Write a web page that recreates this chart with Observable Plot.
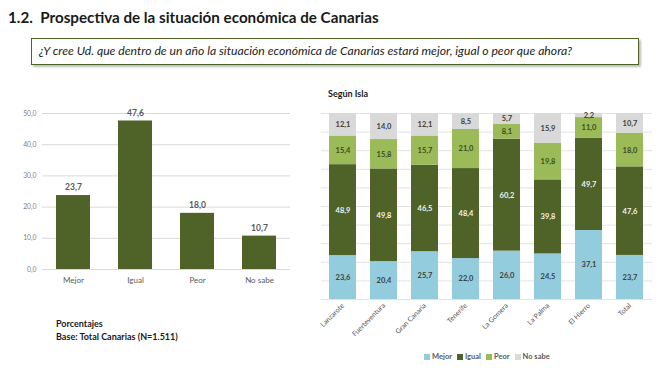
<!DOCTYPE html>
<html>
<head>
<meta charset="utf-8">
<script src="https://cdn.jsdelivr.net/npm/d3@7"></script>
<script src="https://cdn.jsdelivr.net/npm/@observablehq/plot@0.6"></script>
<style>
  body { margin:0; background:#fff; font-family: Lato, "Open Sans", sans-serif; }
  #page { position:relative; width:659px; height:371px; overflow:hidden; }
  .abs { position:absolute; }
  #title { left:8px; top:8px; font-size:15.2px; font-weight:bold; color:#1a1a1a; white-space:nowrap; }
  #qbox { left:31px; top:38px; width:608px; height:27px; border:1px solid #4f6228; box-shadow:2px 2px 2px #bdbdbd; box-sizing:border-box; }
  #question { left:39px; top:43px; font-size:12.2px; font-style:italic; color:#222; white-space:nowrap; }
  #sub { left:328px; top:88px; font-size:9px; font-weight:bold; color:#1a1a1a; }
  #base { left:56px; top:317px; font-size:9px; font-weight:bold; color:#1a1a1a; line-height:13px; }
  #legend { left:424px; top:352px; font-size:7.5px; font-weight:bold; color:#595959; white-space:nowrap; }
  #legend span.sw { display:inline-block; width:6px; height:6px; margin-right:2px; vertical-align:-0.5px; }
  #legend span.it { margin-right:5px; }
</style>
</head>
<body>
<div id="page">
  <div id="title" class="abs">1.2.&nbsp;&nbsp;Prospectiva de la situación económica de Canarias</div>
  <div id="qbox" class="abs"></div>
  <div id="question" class="abs">¿Y cree Ud. que dentro de un año la situación económica de Canarias estará mejor, igual o peor que ahora?</div>
  <div id="left" class="abs" style="left:0;top:100px;"></div>
  <div id="sub" class="abs">Según Isla</div>
  <div id="right" class="abs" style="left:300px;top:100px;"></div>
  <div id="legend" class="abs"></div>
  <div id="base" class="abs">Porcentajes<br>Base: Total Canarias (N=1.511)</div>
</div>
<script>
// ---- Data ----
const categories = ["Mejor", "Igual", "Peor", "No sabe"];
const totalValues = [23.7, 47.6, 18.0, 10.7];
const yTicksLeft = [0, 10, 20, 30, 40, 50];

const islands = ["Lanzarote", "Fuerteventura", "Gran Canaria", "Tenerife", "La Gomera", "La Palma", "El Hierro", "Total"];
const mejor  = [23.6, 20.4, 25.7, 22.0, 26.0, 24.5, 37.1, 23.7];
const igual  = [48.9, 49.8, 46.5, 48.4, 60.2, 39.8, 49.7, 47.6];
const peor   = [15.4, 15.8, 15.7, 21.0, 8.1, 19.8, 11.0, 18.0];
const noSabe = [12.1, 14.0, 12.1, 8.5, 5.7, 15.9, 2.2, 10.7];
const gridRight = [0, 10, 20, 30, 40, 50, 60, 70, 80, 90, 100];

const seriesColors = {"Mejor": "#93cddd", "Igual": "#4f6228", "Peor": "#9bbb59", "No sabe": "#d9d9d9"};
const labelColors = {"Mejor": "#404040", "Igual": "#f2f2f2", "Peor": "#3d4d20", "No sabe": "#404040"};

const fmt = v => v.toFixed(1).replace(".", ",");

// ---- Left chart ----
const leftData = categories.map((c, i) => ({cat: c, value: totalValues[i]}));
const left = Plot.plot({
  width: 300, height: 195,
  marginLeft: 42, marginRight: 10, marginTop: 13, marginBottom: 26,
  style: {fontFamily: "Lato, 'Open Sans', sans-serif", background: "transparent"},
  x: {domain: categories, paddingInner: 0.45, paddingOuter: 0.225, label: null},
  y: {domain: [0, 50], label: null},
  marks: [
    Plot.gridY(yTicksLeft, {stroke: "#d9d9d9", strokeOpacity: 1}),
    Plot.barY(leftData, {x: "cat", y: "value", fill: "#4f6228"}),
    Plot.text(leftData, {x: "cat", y: "value", text: d => fmt(d.value), dy: -8, fontSize: 8.5, fontWeight: "bold", fill: "#595959"}),
    Plot.axisY(yTicksLeft, {tickFormat: fmt, tickSize: 0, tickPadding: 6, fontSize: 6.8, color: "#7f7f7f"}),
    Plot.axisX({tickSize: 0, tickPadding: 8, fontSize: 8, color: "#595959"})
  ]
});
document.getElementById("left").appendChild(left);

// ---- Right chart ----
const seriesNames = ["Mejor", "Igual", "Peor", "No sabe"];
const seriesVals = [mejor, igual, peor, noSabe];
const stacked = [];
islands.forEach((isl, i) => {
  let acc = 0;
  seriesNames.forEach((s, k) => {
    const v = seriesVals[k][i];
    stacked.push({island: isl, serie: s, value: v, y1: acc, y2: acc + v});
    acc += v;
  });
});

const textMarks = seriesNames.map(s =>
  Plot.text(stacked.filter(d => d.serie === s), {
    x: "island", y: d => (d.y1 + d.y2) / 2, text: d => fmt(d.value),
    fill: labelColors[s], fontSize: 7.5, fontWeight: "bold"
  })
);

const right = Plot.plot({
  width: 359, height: 240,
  marginLeft: 21, marginRight: 7, marginTop: 13, marginBottom: 41,
  style: {fontFamily: "Lato, 'Open Sans', sans-serif", background: "transparent"},
  x: {domain: islands, paddingInner: 0.335, paddingOuter: 0.17, label: null},
  y: {domain: [0, 100], label: null, axis: null},
  color: {domain: seriesNames, range: seriesNames.map(s => seriesColors[s])},
  marks: [
    Plot.gridY(gridRight, {stroke: "#e3e3e3", strokeOpacity: 1}),
    Plot.barY(stacked, {x: "island", y1: "y1", y2: "y2", fill: "serie"}),
    ...textMarks,
    Plot.axisX({tickSize: 0, tickPadding: 5, tickRotate: -45, fontSize: 7, color: "#595959"})
  ]
});
document.getElementById("right").appendChild(right);

// ---- Legend ----
const leg = document.getElementById("legend");
seriesNames.forEach(s => {
  const it = document.createElement("span");
  it.className = "it";
  it.innerHTML = `<span class="sw" style="background:${seriesColors[s]}"></span>${s}`;
  leg.appendChild(it);
});
</script>
</body>
</html>
